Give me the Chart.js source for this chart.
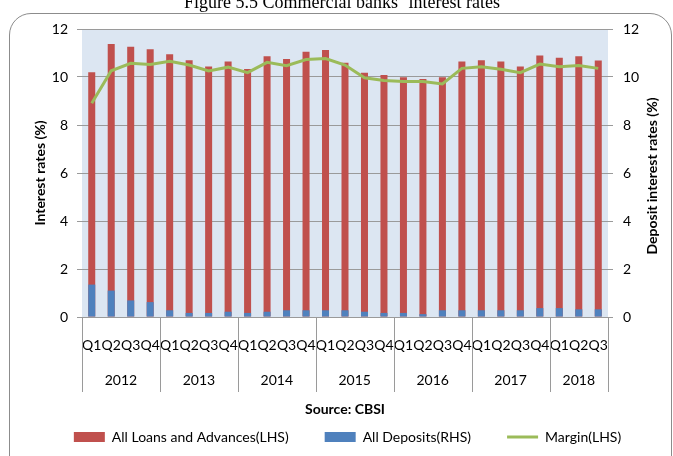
<!DOCTYPE html>
<html>
<head>
<meta charset="utf-8">
<script src="https://cdn.jsdelivr.net/npm/chart.js@4.4.1/dist/chart.umd.min.js"></script>
<style>
html, body { margin: 0; padding: 0; background: #fff; }
#wrap { position: relative; width: 673px; height: 456px; overflow: hidden; }
#frame { position: absolute; left: 9px; top: 13px; width: 663px; height: 480px; border: 1px solid #8c8c8c; border-radius: 22px; box-sizing: border-box; }
#c { position: absolute; left: 0; top: 0; }
</style>
</head>
<body>
<div id="wrap">
    <div id="frame"></div>
    <canvas id="c" width="673" height="456"></canvas>
</div>
<script>
const quarters = ["Q1", "Q2", "Q3", "Q4", "Q1", "Q2", "Q3", "Q4", "Q1", "Q2", "Q3", "Q4",
    "Q1", "Q2", "Q3", "Q4", "Q1", "Q2", "Q3", "Q4", "Q1", "Q2", "Q3", "Q4", "Q1", "Q2", "Q3"];
const years = ["2012", "2013", "2014", "2015", "2016", "2017", "2018"];
const quartersPerYear = [4, 4, 4, 4, 4, 4, 3];

const loans = [10.2, 11.37, 11.26, 11.16, 10.95, 10.7, 10.44, 10.65, 10.33, 10.86, 10.75, 11.05,
    11.12, 10.59, 10.18, 10.08, 9.99, 9.92, 9.99, 10.65, 10.7, 10.65, 10.44, 10.9, 10.8, 10.86, 10.69];
const deposits = [1.35, 1.1, 0.69, 0.62, 0.28, 0.17, 0.17, 0.22, 0.17, 0.22, 0.28, 0.28,
    0.28, 0.28, 0.22, 0.17, 0.17, 0.12, 0.28, 0.28, 0.28, 0.28, 0.28, 0.37, 0.37, 0.32, 0.32];
const margin = [8.91, 10.26, 10.57, 10.52, 10.66, 10.5, 10.25, 10.41, 10.18, 10.61, 10.47, 10.73,
    10.77, 10.5, 9.97, 9.85, 9.81, 9.81, 9.71, 10.36, 10.43, 10.32, 10.18, 10.54, 10.43, 10.48, 10.36];

const FONT = "Lato";
const GRID = "#9a9a9a";

// background, year row, right axis title, figure caption
const extras = {
    id: "extras",
    beforeDraw(chart) {
        const { ctx, chartArea: a } = chart;
        ctx.save();
        ctx.fillStyle = "#dce6f2";
        ctx.fillRect(a.left, a.top, a.right - a.left, a.bottom - a.top);
        ctx.restore();
    },
    afterDraw(chart) {
        const { ctx, chartArea: a } = chart;
        const x = chart.scales.x;
        const step = x.getPixelForValue(1) - x.getPixelForValue(0);
        ctx.save();

        // year separators and labels
        ctx.strokeStyle = GRID;
        ctx.lineWidth = 1;
        ctx.fillStyle = "#000";
        ctx.font = "14px " + FONT;
        ctx.textAlign = "center";
        ctx.textBaseline = "middle";
        let idx = 0;
        const edges = [];
        years.forEach((yr, i) => {
            const left = x.getPixelForValue(idx) - step / 2;
            const right = x.getPixelForValue(idx + quartersPerYear[i] - 1) + step / 2;
            edges.push(left);
            if (i === years.length - 1) edges.push(right);
            ctx.fillText(yr, (left + right) / 2, a.bottom + 63);
            idx += quartersPerYear[i];
        });
        edges.forEach(e => {
            const px = Math.round(e) + 0.5;
            ctx.beginPath();
            ctx.moveTo(px, a.bottom);
            ctx.lineTo(px, a.bottom + 75);
            ctx.stroke();
        });

        // right axis title, reading upward like the left one
        ctx.font = "bold 14px " + FONT;
        ctx.translate(652, (a.top + a.bottom) / 2 + 3);
        ctx.rotate(-Math.PI / 2);
        ctx.fillText("Deposit interest rates (%)", 0, 0);
        ctx.restore();

        // figure caption, mostly cut off at the top
        ctx.save();
        ctx.fillStyle = "#000";
        ctx.font = "18px 'Liberation Serif'";
        ctx.textAlign = "center";
        ctx.textBaseline = "alphabetic";
        ctx.fillText("Figure 5.5 Commercial banks\u2019 interest rates", 342, 8);
        ctx.restore();
    }
};

new Chart(document.getElementById("c"), {
    type: "bar",
    data: {
        labels: quarters,
        datasets: [
            {
                type: "bar",
                label: "All Loans and Advances(LHS)",
                data: loans,
                yAxisID: "y",
                backgroundColor: "#c0504d",
                borderColor: "#c0504d",
                grouped: false,
                order: 3,
                barPercentage: 0.36,
                categoryPercentage: 1
            },
            {
                type: "bar",
                label: "All Deposits(RHS)",
                data: deposits,
                yAxisID: "y1",
                backgroundColor: "#4f81bd",
                borderColor: "#4f81bd",
                grouped: false,
                order: 2,
                barPercentage: 0.36,
                categoryPercentage: 1
            },
            {
                type: "line",
                label: "Margin(LHS)",
                data: margin,
                yAxisID: "y",
                borderColor: "#9bbb59",
                backgroundColor: "#9bbb59",
                borderWidth: 3,
                pointRadius: 0,
                tension: 0,
                order: 1
            }
        ]
    },
    options: {
        responsive: false,
        animation: false,
        devicePixelRatio: 1,
        layout: { padding: { top: 29, left: 22, right: 0, bottom: 2 } },
        plugins: {
            tooltip: { enabled: false },
            legend: {
                position: "bottom",
                labels: {
                    usePointStyle: true,
                    pointStyleWidth: 31,
                    boxHeight: 10,
                    padding: 36,
                    color: "#000",
                    font: { family: FONT, size: 14 },
                    generateLabels: chart => chart.data.datasets.map((ds, i) => ({
                        text: ds.label,
                        fillStyle: ds.backgroundColor,
                        strokeStyle: ds.borderColor,
                        lineWidth: ds.type === "line" ? 3 : 0,
                        pointStyle: ds.type === "line" ? "line" : "rect",
                        hidden: false,
                        datasetIndex: i,
                        fontColor: "#000"
                    }))
                }
            }
        },
        scales: {
            x: {
                grid: { display: false, drawTicks: false },
                border: { display: false },
                ticks: {
                    autoSkip: false,
                    maxRotation: 0,
                    padding: 20,
                    color: "#000",
                    font: { family: FONT, size: 14 }
                },
                title: {
                    display: true,
                    text: "Source: CBSI",
                    color: "#000",
                    font: { family: FONT, size: 14, weight: "bold" },
                    padding: { top: 0, bottom: -23.4 }
                },
                afterFit(scale) { scale.height = 77; }
            },
            y: {
                position: "left",
                min: 0,
                max: 12,
                ticks: { stepSize: 2, padding: 9, color: "#000", font: { family: FONT, size: 14 } },
                grid: { color: GRID, tickLength: 5 },
                border: { display: false },
                title: {
                    display: true,
                    text: "Interest rates (%)",
                    color: "#000",
                    font: { family: FONT, size: 14, weight: "bold" },
                    padding: { top: 10, bottom: 0 }
                },
                afterFit(scale) { scale.width = 60; }
            },
            y1: {
                position: "right",
                min: 0,
                max: 12,
                ticks: { stepSize: 2, padding: 10, color: "#000", font: { family: FONT, size: 14 } },
                grid: { drawOnChartArea: false, color: GRID, tickLength: 5 },
                border: { display: false },
                afterFit(scale) { scale.width = 65; }
            }
        }
    },
    plugins: [extras]
});
</script>
</body>
</html>
